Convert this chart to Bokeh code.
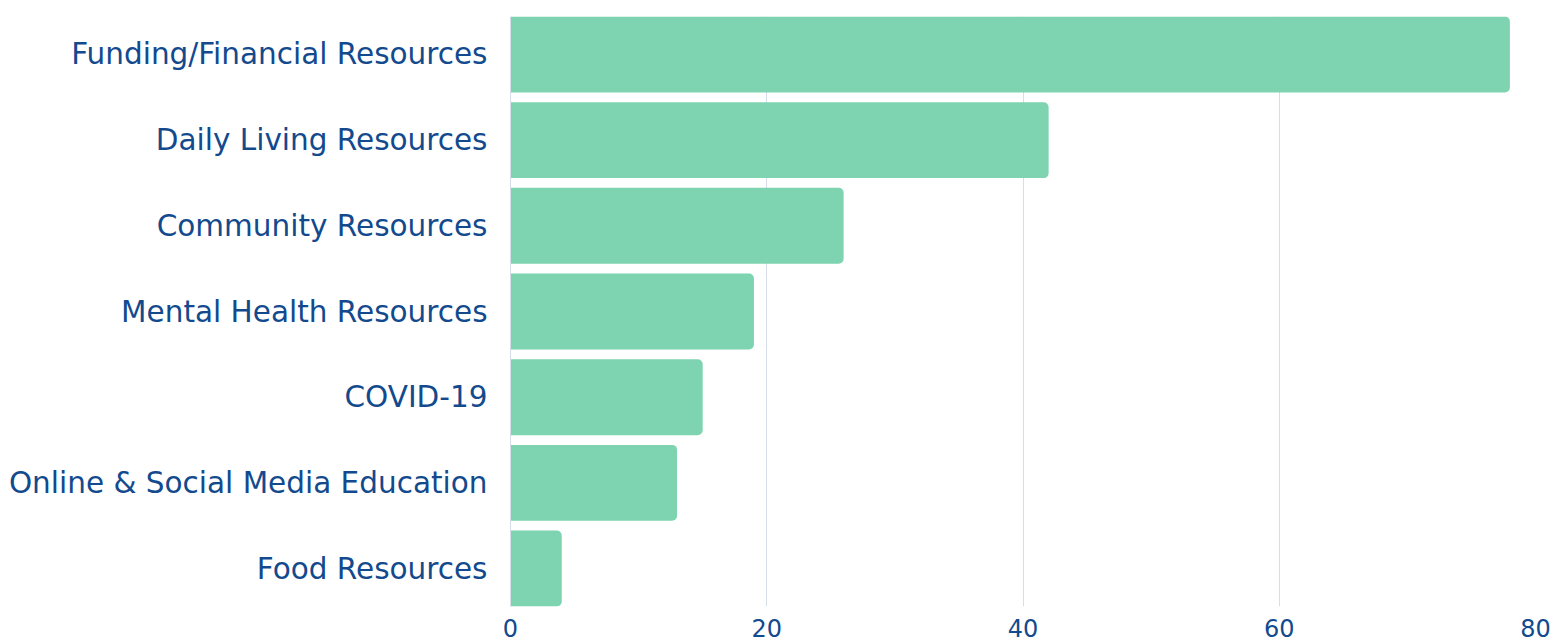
from bokeh.plotting import figure
from bokeh.models import Range1d, FixedTicker
from bokeh.embed import file_html
from bokeh.resources import INLINE

categories = [
    "Funding/Financial Resources",
    "Daily Living Resources",
    "Community Resources",
    "Mental Health Resources",
    "COVID-19",
    "Online & Social Media Education",
    "Food Resources",
]
counts = [78, 42, 26, 19, 15, 13, 4]
x_ticks = [0, 20, 40, 60, 80]

BAR = "#7ed3b0"
TEXT = "#134a8e"
GRID = "#d6dde9"
FONT = "DejaVu Sans"

positions = list(range(len(categories)))

p = figure(
    width=1553, height=642,
    x_range=Range1d(0, 80),
    y_range=Range1d(len(categories) - 0.5 - 0.057, -0.5 + 0.057),
    output_backend="svg", toolbar_location=None,
    min_border_left=510, min_border_right=18, min_border_top=16, min_border_bottom=36,
)
p.outline_line_color = None
p.background_fill_color = "white"
p.border_fill_color = "white"

p.hbar(y=positions, right=counts, left=0, height=0.886,
       fill_color=BAR, line_color=None, border_radius=[0, 5, 5, 0])

p.xgrid.ticker = FixedTicker(ticks=x_ticks)
p.xgrid.grid_line_color = GRID
p.xgrid.grid_line_width = 1
p.ygrid.grid_line_color = None

p.xaxis.ticker = FixedTicker(ticks=x_ticks)
p.xaxis.axis_line_color = None
p.xaxis.major_tick_line_color = None
p.xaxis.minor_tick_line_color = None
p.xaxis.major_label_text_font = FONT
p.xaxis.major_label_text_font_size = "24px"
p.xaxis.major_label_text_color = TEXT
p.xaxis.major_label_standoff = 6

p.yaxis.ticker = FixedTicker(ticks=positions)
p.yaxis.major_label_overrides = {i: c for i, c in enumerate(categories)}
p.yaxis.axis_line_color = GRID
p.yaxis.major_tick_line_color = None
p.yaxis.minor_tick_line_color = None
p.yaxis.major_label_text_font = FONT
p.yaxis.major_label_text_font_size = "29.5px"
p.yaxis.major_label_text_color = TEXT
p.yaxis.major_label_standoff = 17

open("out.html", "w").write(file_html(p, INLINE))
